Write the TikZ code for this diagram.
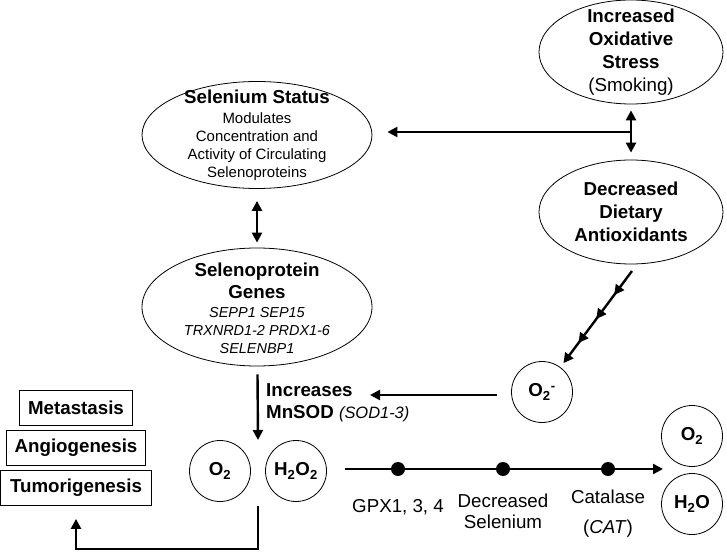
\documentclass[tikz,border=0pt]{standalone}
\usepackage{fontspec}
\setmainfont{Liberation Sans}
\usetikzlibrary{shapes.geometric,arrows.meta,decorations.markings}

\begin{document}
\begin{tikzpicture}[x=1bp, y=-1bp, line width=2.4bp,
    >={Triangle[length=10bp, width=10bp]},
    every node/.style={align=center, inner sep=0pt, font=\fontsize{18.8}{23}\selectfont},
    oval/.style={ellipse, draw, line width=0.8bp},
    mol/.style={circle, draw, line width=0.8bp, minimum size=61bp, font=\fontsize{18.8}{23}\selectfont\bfseries},
    outcome/.style={draw, line width=0.8bp, minimum height=35bp, font=\fontsize{18.8}{23}\selectfont\bfseries},
    enzdot/.style={circle, fill=black, minimum size=14bp},
    multiarrow/.style={postaction={decorate}, decoration={markings,
        mark=between positions 0.25 and 0.75 step 0.25 with {\arrow{Triangle[length=10bp, width=10bp]}}}}]
    \useasboundingbox (0,0) rectangle (727,556);

    \node[oval, minimum width=184bp, minimum height=104bp,
        label={[font=\fontsize{18.8}{23}\selectfont\bfseries]center:Increased\\Oxidative\\Stress\\\mdseries (Smoking)}] (stress) at (631,52) {};
    \node[oval, minimum width=230bp, minimum height=107bp,
        label={[font=\fontsize{15}{18}\selectfont]center:\fontsize{18.8}{23}\selectfont\bfseries Selenium Status\\[2bp]Modulates\\Concentration and\\Activity of Circulating\\Selenoproteins}] (status) at (257,135) {};
    \node[oval, minimum width=184bp, minimum height=104bp,
        label={[font=\fontsize{18.8}{23}\selectfont\bfseries]center:Decreased\\Dietary\\Antioxidants}] (dietary) at (631,212) {};
    \node[oval, minimum width=230bp, minimum height=118bp,
        label={[yshift=-1bp, font=\fontsize{14.5}{18}\selectfont\itshape]center:\fontsize{18.8}{23}\selectfont\bfseries\upshape Selenoprotein\\[4bp]\fontsize{18.8}{23}\selectfont\bfseries\upshape Genes\\[1bp]SEPP1 SEP15\\TRXNRD1-2 PRDX1-6\\SELENBP1}] (genes) at (257,307) {};

    \node[mol] (o2m) at (542,392) {O\textsubscript{2}\textsuperscript{-}};
    \node[mol] (o2a) at (220,471) {O\textsubscript{2}};
    \node[mol] (h2o2) at (296,471) {H\textsubscript{2}O\textsubscript{2}};
    \node[mol] (o2b) at (692,436) {O\textsubscript{2}};
    \node[mol] (h2o) at (692,504) {H\textsubscript{2}O};

    \foreach \outc/\y/\w in {Metastasis/408/113, Angiogenesis/448/139, Tumorigenesis/488/151} {
        \node[outcome, minimum width=\w bp] (\outc) at (76,\y) {\outc};
    }

    \node[anchor=west, align=left, font=\fontsize{18.8}{22}\selectfont\bfseries] (mnsod) at (265,403)
        {Increases\\MnSOD {\mdseries\itshape\fontsize{16.5}{22}\selectfont (SOD1-3)}};

    \coordinate (fork) at (631,132);
    \coordinate (split) at (258,440);
    \coordinate (sodin) at (370,395);
    \coordinate (merge) at (258,506);
    \coordinate (rxstart) at (345,469);
    \coordinate (rxend) at (663,469);
    \coordinate (ddtop) at (632,271);

    \draw[<->, shorten <=6bp, shorten >=7bp] (stress) -- (dietary);
    \draw[->, shorten >=15bp] (fork) -- (status.east |- fork);
    \draw[<->, shorten <=12bp, shorten >=5bp] (status) -- (genes);
    \draw[->, shorten <=8bp] (genes) -- (split);
    \draw[->, shorten <=14bp] (o2m.west |- sodin) -- (sodin);
    \draw[->, multiarrow, shorten >=5bp] (ddtop) -- (o2m);
    \draw[->, shorten >=13bp] (merge) -- ++(0,43) -| (Tumorigenesis.south);

    \draw[->] (rxstart) -- (rxend);
    \foreach \i/\x in {1/398,2/503,3/608} {
        \node[enzdot] (E\i) at (\x,469) {};
    }
    \node (gpx) at (398,507) {GPX1, 3, 4};
    \node[font=\fontsize{18.8}{21}\selectfont] (lowse) at (503,511) {Decreased\\Selenium};
    \node[font=\fontsize{18.8}{30}\selectfont] (cat) at (608,514) {Catalase\\(\textit{CAT})};

\end{tikzpicture}
\end{document}
